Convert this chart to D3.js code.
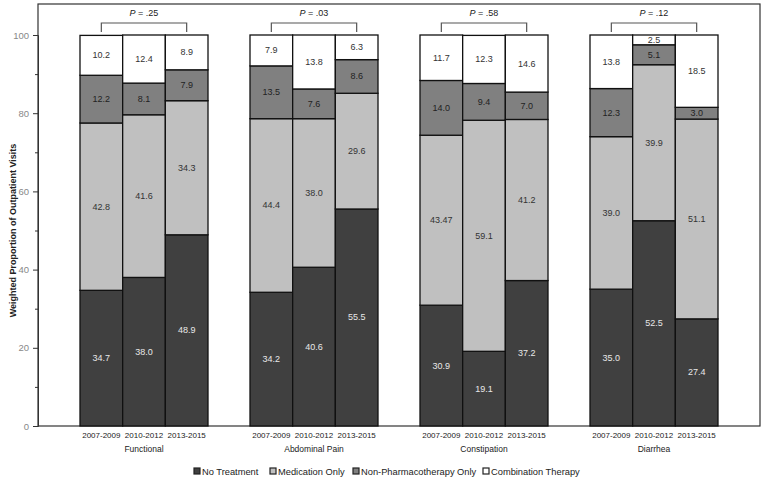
<!DOCTYPE html>
<html><head><meta charset="utf-8">
<script src="https://cdn.jsdelivr.net/npm/d3@7"></script>
<style>
body{margin:0;background:#fff;}
text{font-family:"Liberation Sans",Arial,sans-serif;}
</style></head>
<body><svg id="c" width="765" height="483"></svg>
<script>
const groups = ["Functional","Abdominal Pain","Constipation","Diarrhea"];
const periods = ["2007-2009","2010-2012","2013-2015"];
const seriesNames = ["No Treatment","Medication Only","Non-Pharmacotherapy Only","Combination Therapy"];
const pValues = ["P = .25","P = .03","P = .58","P = .12"];
// values per group, per period
const noTreatment = [[34.7,38.0,48.9],[34.2,40.6,55.5],[30.9,19.1,37.2],[35.0,52.5,27.4]];
const medicationOnly = [[42.8,41.6,34.3],[44.4,38.0,29.6],[43.47,59.1,41.2],[39.0,39.9,51.1]];
const nonPharmOnly = [[12.2,8.1,7.9],[13.5,7.6,8.6],[14.0,9.4,7.0],[12.3,5.1,3.0]];
const combination = [[10.2,12.4,8.9],[7.9,13.8,6.3],[11.7,12.3,14.6],[13.8,2.5,18.5]];
const labelText = [
 [["34.7","38.0","48.9"],["34.2","40.6","55.5"],["30.9","19.1","37.2"],["35.0","52.5","27.4"]],
 [["42.8","41.6","34.3"],["44.4","38.0","29.6"],["43.47","59.1","41.2"],["39.0","39.9","51.1"]],
 [["12.2","8.1","7.9"],["13.5","7.6","8.6"],["14.0","9.4","7.0"],["12.3","5.1","3.0"]],
 [["10.2","12.4","8.9"],["7.9","13.8","6.3"],["11.7","12.3","14.6"],["13.8","2.5","18.5"]]
];
const yTicks = [0,20,40,60,80,100];

const colors = ["#404040","#c0c0c0","#808080","#ffffff"];
const textColors = ["#e8e8e8","#333","#222","#333"];
const seriesVals = [noTreatment, medicationOnly, nonPharmOnly, combination];

const svg = d3.select("#c");
const frame = {l:38, t:4, r:760, b:426};

const y = d3.scaleLinear().domain([0,100]).range([426,35]);
const x = d3.scaleBand().domain(groups).range([59,739]).paddingInner(42/170).paddingOuter(21/170);
const xi = d3.scaleBand().domain(periods).range([0, x.bandwidth()]);

// frame
svg.append("rect").attr("x",frame.l).attr("y",frame.t)
  .attr("width",frame.r-frame.l).attr("height",frame.b-frame.t)
  .attr("fill","none").attr("stroke","#333").attr("stroke-width",1.2);

// y axis
const yAxis = svg.append("g").attr("transform",`translate(${frame.l},0)`)
  .call(d3.axisLeft(y).tickValues(yTicks).tickSize(5).tickPadding(4));
yAxis.select(".domain").attr("stroke","#333");
yAxis.selectAll(".tick line").attr("stroke","#333");
yAxis.selectAll(".tick text").attr("fill","#888").style("font-size","9.5px").style("font-family","Liberation Sans, Arial, sans-serif");
svg.append("g").attr("transform",`translate(${frame.l},0)`)
  .call(d3.axisLeft(y).tickValues([10,30,50,70,90]).tickSize(3).tickFormat(""))
  .call(g=>g.select(".domain").remove())
  .selectAll("line").attr("stroke","#333");

svg.append("text").attr("transform","translate(14,230.5) rotate(-90)")
  .attr("text-anchor","middle").attr("dominant-baseline","middle")
  .style("font-size","9px").style("font-weight","bold").attr("fill","#222")
  .text("Weighted Proportion of Outpatient Visits");

// bars
groups.forEach((g,gi)=>{
  const gx = x(g);
  periods.forEach((p,pi)=>{
    let cum = 0;
    seriesVals.forEach((sv,si)=>{
      const v = sv[gi][pi];
      const y0 = cum, y1 = cum+v;
      cum = y1;
      const top = Math.max(y(Math.min(y1,100)), y(100));
      svg.append("rect").attr("x",gx+xi(p)).attr("y",top)
        .attr("width",xi.bandwidth()).attr("height",y(y0)-top)
        .attr("fill",colors[si]).attr("stroke","#111").attr("stroke-width",1.3);
      svg.append("text").attr("x",gx+xi(p)+xi.bandwidth()/2)
        .attr("y",(y(y0)+top)/2).attr("text-anchor","middle").attr("dominant-baseline","central")
        .style("font-size","9px").attr("fill",textColors[si]).text(labelText[si][gi][pi]);
    });
    svg.append("text").attr("x",gx+xi(p)+xi.bandwidth()/2).attr("y",438)
      .attr("text-anchor","middle").style("font-size","8px").attr("fill","#222").text(p);
  });
  svg.append("text").attr("x",gx+x.bandwidth()/2).attr("y",452)
    .attr("text-anchor","middle").style("font-size","8.5px").attr("fill","#222").text(g);
  // bracket
  const bx0 = gx+xi(periods[0])+xi.bandwidth()/2, bx1 = gx+xi(periods[2])+xi.bandwidth()/2;
  svg.append("path").attr("d",`M${bx0},32V23H${bx1}V32`).attr("fill","none").attr("stroke","#555").attr("stroke-width",1.2);
  const pt = svg.append("text").attr("x",gx+x.bandwidth()/2).attr("y",16).attr("text-anchor","middle")
    .style("font-size","9px").attr("fill","#222");
  pt.append("tspan").style("font-style","italic").text("P");
  pt.append("tspan").text(pValues[gi].slice(1));
});

// legend
const legX = [194,270,353,483];
seriesNames.forEach((s,i)=>{
  svg.append("rect").attr("x",legX[i]).attr("y",468).attr("width",6).attr("height",6)
    .attr("fill",colors[i]).attr("stroke","#222").attr("stroke-width",1.2);
  svg.append("text").attr("x",legX[i]+8).attr("y",474.5).style("font-size","9.3px").attr("fill","#222").text(s);
});
</script></body></html>
